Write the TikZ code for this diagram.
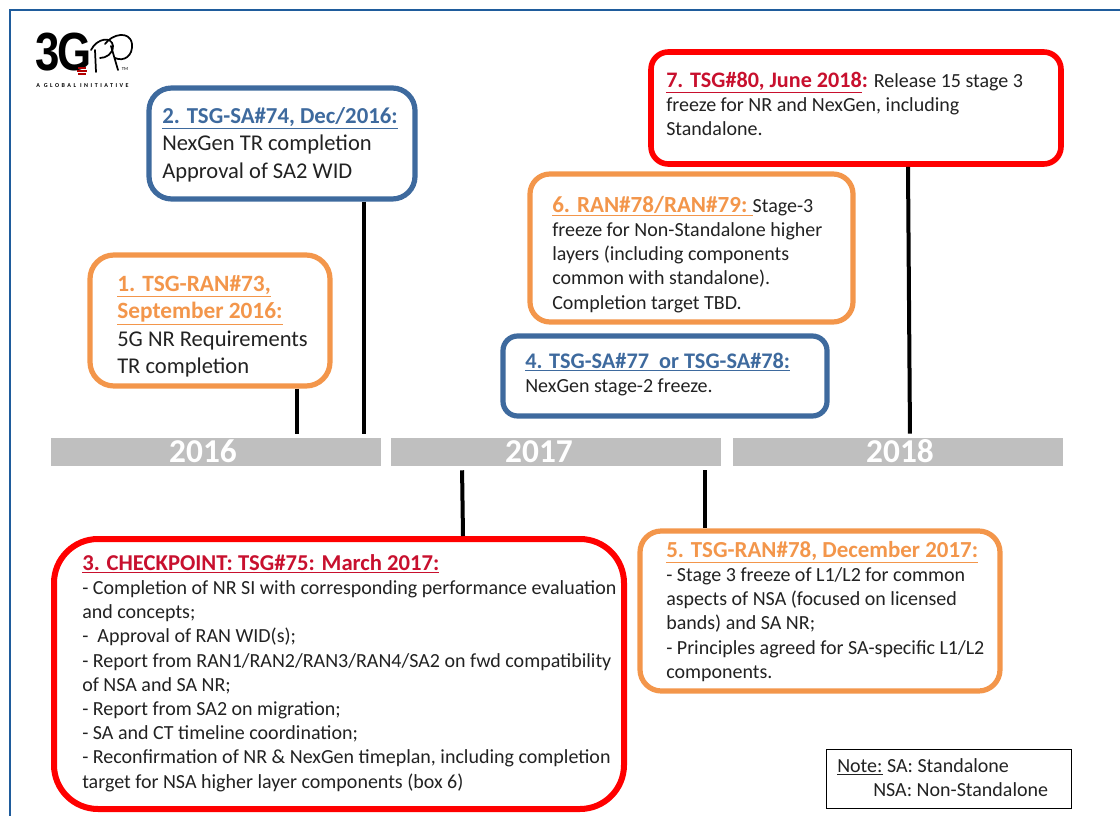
\documentclass[tikz,border=0pt]{standalone}
\usepackage{fontspec}
\setmainfont{Carlito}
\newfontfamily\logofont{Liberation Sans}
\definecolor{frameblue}{HTML}{1F5C9C}
\definecolor{evorange}{HTML}{F3964B}
\definecolor{evblue}{HTML}{3E6A9E}
\definecolor{evred}{HTML}{FF0000}
\definecolor{headred}{HTML}{C8102E}
\definecolor{bargrey}{HTML}{BFBFBF}
\definecolor{bodyink}{HTML}{222222}
% #1 size in pt, #2 colour, #3 text
\newcommand{\hd}[3]{{\fontsize{#1}{#1}\selectfont\bfseries\color{#2}\underline{#3}}}
\tikzset{
  x=0.75pt,y=-0.75pt,
  evbox/.style={draw=#1,line width=3.9pt,rounded corners=15pt,fill=white,inner sep=0pt},
  evtext/.style={anchor=north west,inner sep=0pt,align=left,text=bodyink},
  bigtext/.style={evtext,font=\fontsize{16.9}{20.5}\selectfont},
  smalltext/.style={evtext,font=\fontsize{15}{18.15}\selectfont},
  yearbar/.style={fill=bargrey,draw=none,minimum width=247.5pt,minimum height=21pt,inner sep=0pt},
  yearlabel/.style={anchor=base,inner sep=0pt,text=white,font=\bfseries\fontsize{25}{25}\selectfont},
  conn/.style={line width=3pt,black},
}
\begin{document}
\begin{tikzpicture}
\useasboundingbox (0,0) rectangle (1120,816);
\draw[frameblue,line width=1.6pt] (10,816) -- (10,10) -- (1120,10);

% logo
\node[inner sep=0pt,anchor=west,font=\logofont\bfseries\fontsize{31}{31}\selectfont] (logo3g) at (35,52) {\scalebox{1.06}[1.3]{3\kern-1.5pt G}};
\draw[line width=1.3pt,black,line cap=round] (96,72) -- (95,50) (91,50) .. controls (97,38) and (112,36) .. (113,46) .. controls (113,54) and (106,58) .. (100,58);
\draw[line width=1.3pt,black,line cap=round] (118,70) -- (111,46) (105,44) .. controls (112,34) and (130,30) .. (132,44) .. controls (133,56) and (124,62) .. (115,58);
\foreach \yy/\ww in {68/4,71/5,74/4}{\draw[red!70!black,line width=0.8pt] (82-\ww,\yy) -- (82+\ww,\yy);}
\node[inner sep=0pt,font=\fontsize{3.5}{4}\selectfont] (logotm) at (125,69) {TM};
\node[inner sep=0pt,anchor=west,font=\bfseries\fontsize{4.5}{5}\selectfont\addfontfeature{LetterSpace=42}] (logotag) at (36,85.5) {A GLOBAL INITIATIVE};

% year bars
\node[yearbar] (bar16) at (216,452) {};
\node[yearbar] (bar17) at (556,452) {};
\node[yearbar] (bar18) at (898,452) {};
\node[yearlabel] (y16) at (203,462) {2016};
\node[yearlabel] (y17) at (539,462) {2017};
\node[yearlabel] (y18) at (900,462) {2018};

% event boxes
\node[evbox=evorange,rounded corners=18pt,minimum width=180pt,minimum height=98.25pt] (b1) at (210,320.5) {};
\node[evbox=evblue,rounded corners=17pt,minimum width=199.5pt,minimum height=83.25pt] (b2) at (282,143.5) {};
\node[evbox=evred,line width=4.5pt,rounded corners=33pt,minimum width=427.5pt,minimum height=202.5pt] (b3) at (339,674) {};
\node[evbox=evblue,rounded corners=11pt,minimum width=243pt,minimum height=60pt] (b4) at (665,376) {};
\node[evbox=evorange,rounded corners=16pt,minimum width=270pt,minimum height=120pt] (b5) at (820,611) {};
\node[evbox=evorange,minimum width=242.25pt,minimum height=111pt] (b6) at (691.5,248) {};
\node[evbox=evred,line width=4.2pt,rounded corners=13pt,minimum width=307.5pt,minimum height=84pt] (b7) at (856,108) {};
\node[draw=black,line width=0.75pt,inner sep=0pt,minimum width=183.75pt,minimum height=43.9pt] (note) at (948.5,779) {};

% texts
\node[bigtext] (t1) at (117,272) {\strut\hd{17.5}{evorange}{1. TSG-RAN\#73,}\\\hd{17.5}{evorange}{September 2016:}\\5G NR Requirements\\TR completion};
\node[bigtext] (t2) at (162,104) {\strut\hd{17.1}{evblue}{2. TSG-SA\#74, Dec/2016:}\\NexGen TR completion\\Approval of SA2 WID};
\node[smalltext] (t3) at (82,553) {\strut\hd{17}{headred}{3. CHECKPOINT: TSG\#75: March 2017:}\\- Completion of NR SI with corresponding performance evaluation\\and concepts;\\-\ \ Approval of RAN WID(s);\\- Report from RAN1/RAN2/RAN3/RAN4/SA2 on fwd compatibility\\of NSA and SA NR;\\- Report from SA2 on migration;\\- SA and CT timeline coordination;\\- Reconfirmation of NR \& NexGen timeplan, including completion\\target for NSA higher layer components (box 6)};
\node[smalltext] (t4) at (525,351) {\strut\hd{16.7}{evblue}{4. TSG-SA\#77\ \ or TSG-SA\#78:}\\NexGen stage-2 freeze.};
\node[smalltext] (t5) at (666,540) {\strut\hd{17.2}{evorange}{5. TSG-RAN\#78, December 2017:}\\- Stage 3 freeze of L1/L2 for common\\aspects of NSA (focused on licensed\\bands) and SA NR;\\- Principles agreed for SA-specific L1/L2\\components.};
\node[smalltext] (t6) at (552,195) {\strut\hd{17.3}{evorange}{6. RAN\#78/RAN\#79:\ }Stage-3\\freeze for Non-Standalone higher\\layers (including components\\common with standalone).\\Completion target TBD.};
\node[smalltext] (t7) at (666,70) {\strut\hd{16.6}{headred}{7. TSG\#80, June 2018}{\fontsize{16.6}{16.6}\selectfont\bfseries\color{headred}:} Release 15 stage 3\\freeze for NR and NexGen, including\\Standalone.};
\node[smalltext] (tn) at (837,755) {\strut\underline{Note:} SA: Standalone\\\hspace{27pt}NSA: Non-Standalone};

% connectors
\coordinate (c1) at (297,0);
\coordinate (c2) at (364,0);
\coordinate (c3a) at (462,0);
\coordinate (c3b) at (463,0);
\coordinate (c5) at (705,0);
\coordinate (c7a) at (908,0);
\coordinate (c7b) at (910,0);
\draw[conn,shorten >=3pt] (b1.south -| c1) -- (bar16.north -| c1);
\draw[conn,shorten >=3pt] (b2.south -| c2) -- (bar16.north -| c2);
\draw[conn,shorten <=3pt] (bar17.south -| c3a) -- (b3.north -| c3b);
\draw[conn,shorten <=3pt] (bar17.south -| c5) -- (b5.north -| c5);
\draw[conn,shorten >=3pt] (b7.south -| c7a) -- (bar18.north -| c7b);
\end{tikzpicture}
\end{document}
